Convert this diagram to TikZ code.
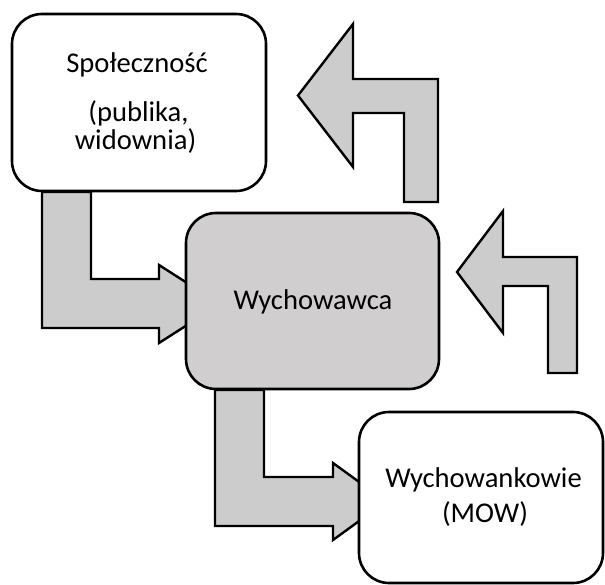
\documentclass[tikz,border=0pt]{standalone}
\usepackage{fontspec}
\setmainfont{Carlito}
\tikzset{
  blk/.style={draw=black, line width=2.6pt, rounded corners=30pt, rectangle, inner sep=0pt},
  whitebox/.style={blk, fill=white},
  graybox/.style={blk, fill=boxgray},
  barrow/.style={draw=black, line width=2.4pt, fill=arrowgray, line join=miter},
  lbl/.style={anchor=base, inner sep=0pt, font=\fontsize{28.6}{34}\selectfont}
}
\definecolor{boxgray}{HTML}{D0CECE}
\definecolor{arrowgray}{HTML}{CCCCCC}
\begin{document}
\begin{tikzpicture}[x=1pt, y=-1pt]
\useasboundingbox (0,0) rectangle (605,585);
% block arrows (drawn first, boxes cover their ends)
\draw[barrow] (42,192) -- (91,192) -- (91,279) -- (159,279) -- (159,265) -- (220,304) -- (159,343) -- (159,328) -- (42,328) -- cycle;
\draw[barrow] (215,390) -- (264,390) -- (264,477) -- (333,477) -- (333,463) -- (386,501.5) -- (333,540) -- (333,526) -- (215,526) -- cycle;
\draw[barrow] (298,95.5) -- (353,24) -- (353,79) -- (438,79) -- (438,202) -- (404,202) -- (404,113) -- (353,113) -- (353,167) -- cycle;
\draw[barrow] (457,272) -- (503,211) -- (503,257) -- (577,257) -- (577,373) -- (548,373) -- (548,286) -- (503,286) -- (503,333) -- cycle;
% boxes
\node[whitebox, minimum width=254pt, minimum height=177pt] (spol) at (139,102.5) {};
\node[graybox, minimum width=253pt, minimum height=176pt] (wych) at (312.5,301) {};
\node[whitebox, minimum width=244pt, minimum height=171pt] (wychk) at (481,497.5) {};
% texts
\node[lbl] (t1) at (137,73) {Społeczność};
\node[lbl] (t2) at (138.5,122) {(publika,};
\node[lbl] (t3) at (135.5,150) {widownia)};
\node[lbl] (t4) at (313,309) {Wychowawca};
\node[lbl] (t5) at (483.5,487) {Wychowankowie};
\node[lbl] (t6) at (485,522) {(MOW)};
\end{tikzpicture}
\end{document}
